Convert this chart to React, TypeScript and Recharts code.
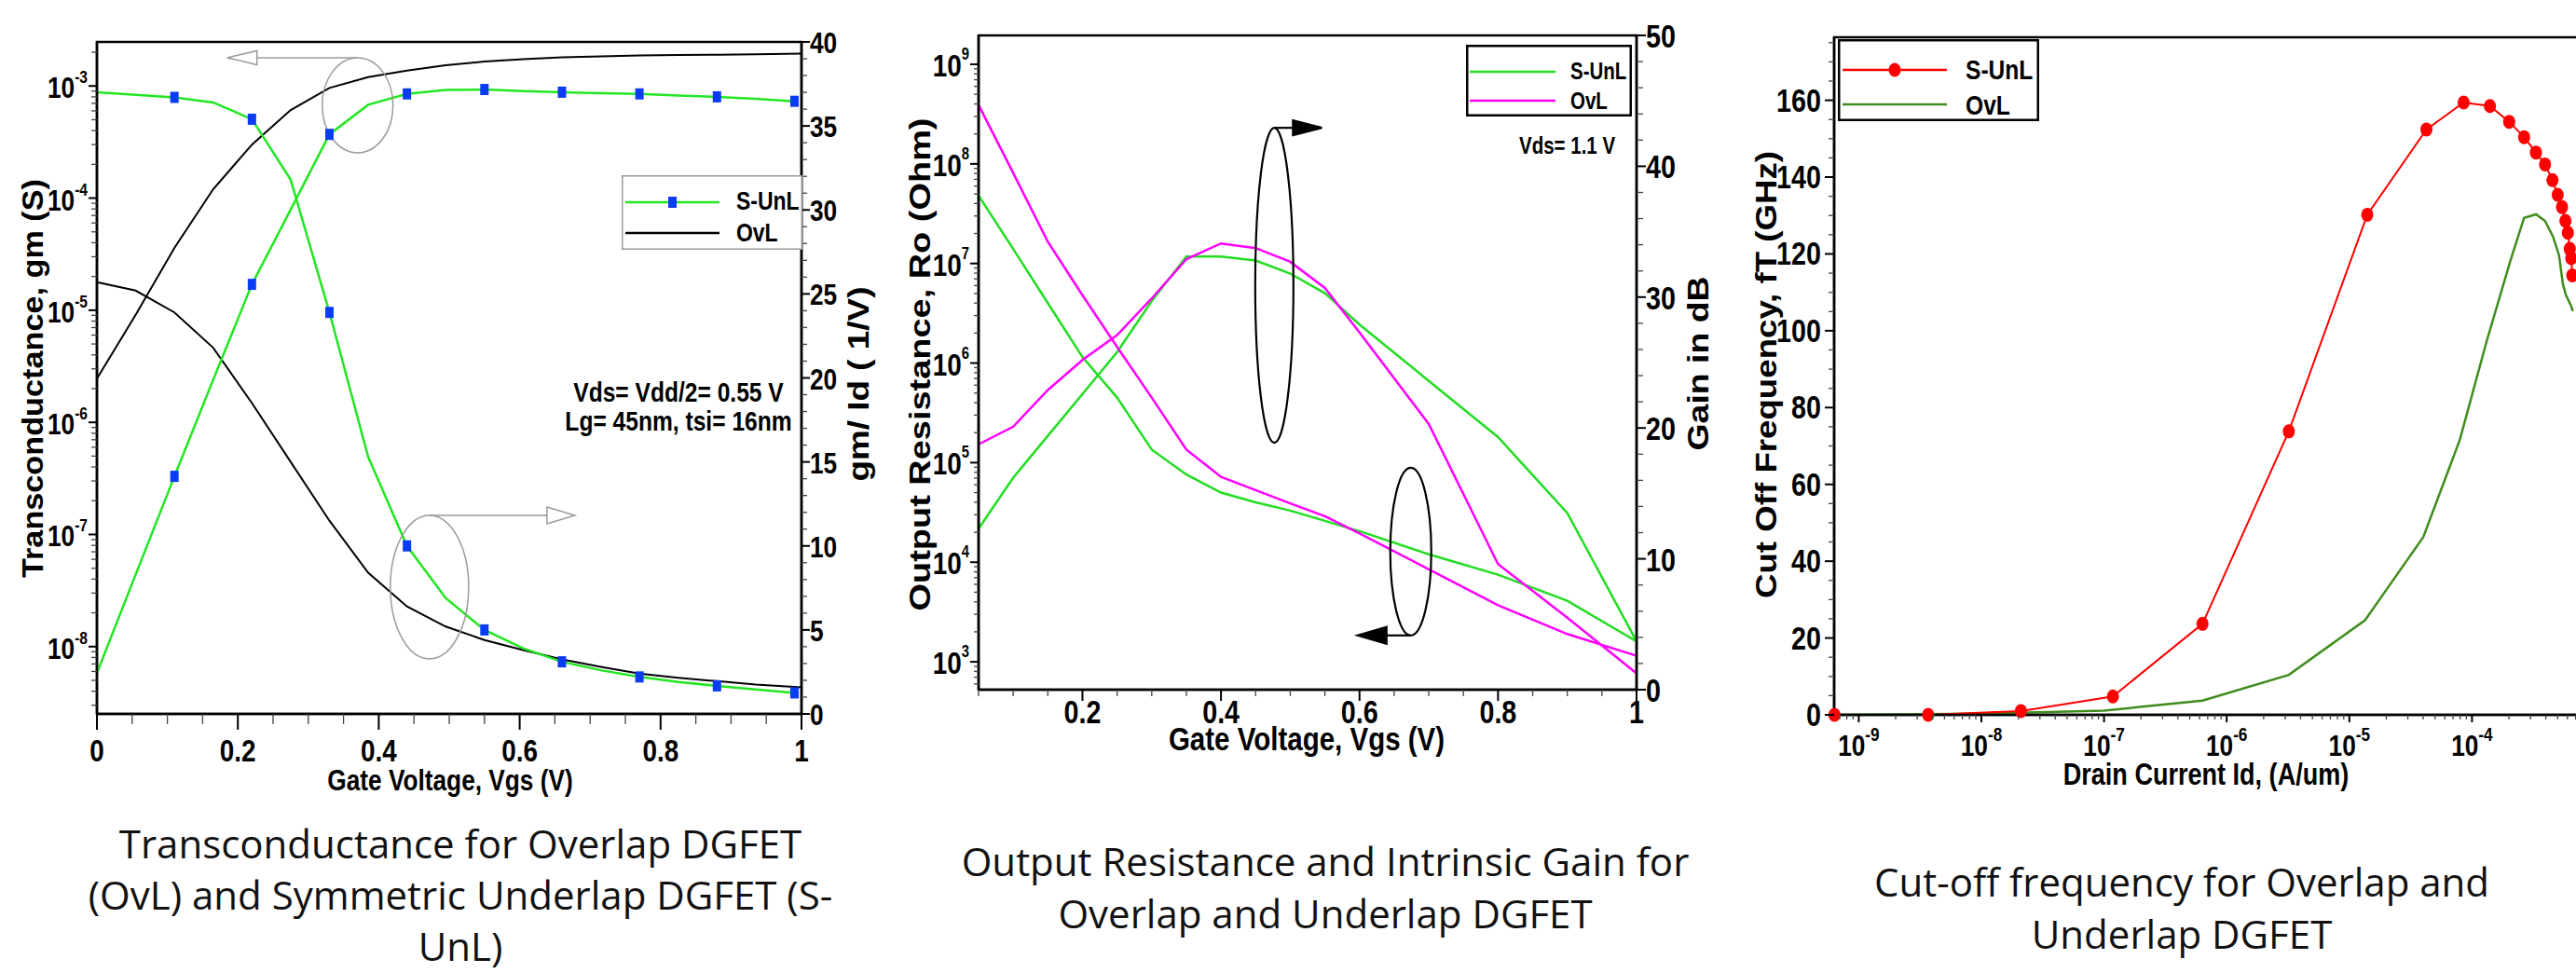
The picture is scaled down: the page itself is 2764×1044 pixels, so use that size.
import React from "react";
import { LineChart, Line, XAxis, YAxis, ReferenceArea, ReferenceDot, Legend } from "recharts";

const SANS = '"Liberation Sans", Arial, sans-serif';
const SQUEEZE = 0.82; // condensed look of the original plotting font

// ---- panel 1: transconductance gm (left, log) and gm/Id (right) vs Vgs
const vgsUnl = [0, 0.055, 0.11, 0.165, 0.22, 0.275, 0.33, 0.385, 0.44, 0.495, 0.55, 0.605, 0.66, 0.715, 0.77, 0.825, 0.88, 0.935, 0.99];
const gmUnl = [5.8e-9, 4.4e-8, 3.3e-7, 2.4e-6, 1.7e-5, 7.9e-5, 3.7e-4, 6.8e-4, 8.5e-4, 9.2e-4, 9.3e-4, 9.0e-4, 8.8e-4, 8.6e-4, 8.5e-4, 8.2e-4, 8.0e-4, 7.7e-4, 7.3e-4];
const gmIdUnl = [37.0, 36.85, 36.7, 36.4, 35.4, 31.8, 23.9, 15.3, 10.0, 6.9, 5.0, 3.9, 3.1, 2.6, 2.2, 1.9, 1.67, 1.45, 1.25];
const vgsOvl = [0, 0.055, 0.11, 0.165, 0.22, 0.275, 0.33, 0.385, 0.44, 0.495, 0.55, 0.605, 0.66, 0.715, 0.77, 0.825, 0.88, 0.935, 1.0];
const gmOvl = [2.45e-6, 9.1e-6, 3.6e-5, 1.2e-4, 3.0e-4, 6.1e-4, 9.6e-4, 1.2e-3, 1.37e-3, 1.53e-3, 1.65e-3, 1.73e-3, 1.8e-3, 1.84e-3, 1.87e-3, 1.89e-3, 1.9e-3, 1.92e-3, 1.94e-3];
const gmIdOvl = [25.7, 25.2, 23.9, 21.8, 18.5, 15.0, 11.5, 8.4, 6.4, 5.2, 4.4, 3.8, 3.25, 2.8, 2.4, 2.15, 1.95, 1.75, 1.58];
const unlMarkers = [0.11, 0.22, 0.33, 0.44, 0.55, 0.66, 0.77, 0.88, 0.99];

// ---- panel 2: output resistance Ro (left, log) and gain in dB (right)
const vgsB = [0.05, 0.1, 0.15, 0.2, 0.25, 0.3, 0.35, 0.4, 0.45, 0.5, 0.55, 0.6, 0.7, 0.8, 0.9, 1.0];
const roUnl = [4.8e7, 1.4e7, 4.0e6, 1.15e6, 4.5e5, 1.35e5, 7.6e4, 5.0e4, 4.0e4, 3.3e4, 2.6e4, 2.05e4, 1.2e4, 7.5e3, 4.1e3, 1.6e3];
const roOvl = [3.9e8, 8.1e7, 1.65e7, 4.8e6, 1.45e6, 4.5e5, 1.35e5, 7.2e4, 5.3e4, 3.9e4, 2.9e4, 1.95e4, 8.5e3, 3.7e3, 1.9e3, 1.15e3];
const gainUnl = [12.3, 16.2, 19.4, 22.6, 25.8, 29.7, 33.1, 33.1, 32.8, 31.8, 30.3, 27.9, 23.6, 19.3, 13.5, 3.7];
const gainOvl = [18.75, 20.1, 22.9, 25.2, 27.1, 29.9, 32.9, 34.1, 33.75, 32.7, 30.7, 27.3, 20.3, 9.6, 5.5, 1.25];

// ---- panel 3: cut-off frequency fT vs drain current
const idUnl = [6.34e-10, 3.68e-9, 2.1e-8, 1.18e-7, 6.35e-7, 3.21e-6, 1.4e-5, 4.25e-5, 8.55e-5, 1.4e-4, 2.01e-4, 2.66e-4, 3.32e-4, 3.94e-4, 4.53e-4, 5.0e-4, 5.42e-4, 5.78e-4, 6.05e-4, 6.27e-4, 6.45e-4, 6.57e-4];
const ftUnl = [0, 0, 1.0, 4.8, 23.7, 73.8, 130.2, 152.4, 159.4, 158.5, 154.4, 150.4, 146.4, 143.3, 139.2, 135.4, 132.2, 128.6, 125.5, 121.3, 118.9, 114.4];
const idOvl = [6.34e-10, 1e-8, 1e-7, 6.35e-7, 3.21e-6, 1.34e-5, 4.01e-5, 7.96e-5, 1.31e-4, 2.05e-4, 2.66e-4, 3.33e-4, 3.94e-4, 4.58e-4, 5.12e-4, 5.52e-4, 5.85e-4, 6.38e-4, 6.65e-4];
const ftOvl = [0, 0.3, 1.1, 3.7, 10.4, 24.6, 46.3, 71.6, 97.0, 118.1, 129.4, 130.3, 128.6, 124.5, 119.7, 112.0, 109.2, 106.7, 105.1];

const captions = {
  gm: ["Transconductance for Overlap DGFET", "(OvL) and Symmetric Underlap DGFET (S-", "UnL)"],
  ro: ["Output Resistance and Intrinsic Gain for", "Overlap and Underlap DGFET"],
  ft: ["Cut-off frequency for Overlap and", "Underlap DGFET"],
};

const gmDomain = [2.51e-9, 2.47e-3];
const roDomain = [525, 1.95e9];
const idDomain = [6.3e-10, 1e-3];
const ftMax = 176.4;

const pts = (xs: number[], ys: number[]) => xs.map((x, i) => ({ x, y: ys[i] }));
const steps = (from: number, to: number, step: number) => {
  const out: number[] = [];
  for (let i = 0; from + i * step <= to + 1e-9; i++) out.push(+(from + i * step).toFixed(6));
  return out;
};
// decade ticks 1..9 x 10^e inside the domain (upper bound excluded)
const logTicks = (lo: number, hi: number, dom: number[]) => {
  const out: number[] = [];
  for (let e = lo; e <= hi; e++)
    for (let k = 1; k <= 9; k++) out.push(+(k * Math.pow(10, e)).toPrecision(3));
  return out.filter((v) => v >= dom[0] && v < dom[1] * 0.999);
};

// bold text squeezed horizontally, anchored at (x, y)
function NText({ x, y, size, anchor = "start", children }: { x: number; y: number; size: number; anchor?: "start" | "middle" | "end"; children: React.ReactNode }) {
  return (
    <g transform={`translate(${x},${y}) scale(${SQUEEZE},1)`}>
      <text x={0} y={0} textAnchor={anchor} fontFamily={SANS} fontWeight="bold" fontSize={size} fill="#000">
        {children}
      </text>
    </g>
  );
}

type TickCfg = {
  side: "left" | "right" | "bottom";
  log?: boolean;
  major?: number;
  majLen: number;
  minLen: number;
  size: number;
  sup?: number;
  rise?: number;
  gap: number;
  dy: number;
};

const axisTick = (c: TickCfg) => (p: any) => {
  const { x, y } = p;
  const v: number = p.payload.value;
  const isMajor = c.log
    ? Math.abs(Math.log10(v) - Math.round(Math.log10(v))) < 1e-6
    : Math.abs(v / c.major! - Math.round(v / c.major!)) < 1e-6;
  const len = isMajor ? c.majLen : c.minLen;
  const seg =
    c.side === "left"
      ? { x1: x, x2: x - len, y1: y, y2: y }
      : c.side === "right"
      ? { x1: x, x2: x + len, y1: y, y2: y }
      : { x1: x, x2: x, y1: y, y2: y + len };
  const tx = c.side === "left" ? x - c.gap : c.side === "right" ? x + c.gap : x;
  const anchor = c.side === "left" ? "end" : c.side === "right" ? "start" : "middle";
  return (
    <g>
      <line {...seg} stroke={isMajor ? "#000" : "#444"} strokeWidth={isMajor ? 2 : 1.3} />
      {isMajor && (
        <NText x={tx} y={y + c.dy} size={c.size} anchor={anchor}>
          {c.log ? (
            <>
              10
              <tspan dy={-c.rise!} fontSize={c.sup}>
                {Math.round(Math.log10(v))}
              </tspan>
            </>
          ) : (
            String(+v.toFixed(2))
          )}
        </NText>
      )}
    </g>
  );
};

type NoteCfg = { rx: number; ry: number; color: string; w: number; hollow: boolean; dir: 1 | -1; at: 1 | -1; len: number; head: number; half: number };
const ellipseNote = (o: NoteCfg) => (p: any) => {
  const { cx, cy } = p;
  const ay = cy + o.at * o.ry;
  const bx = cx + o.dir * o.len;
  const tip = bx + o.dir * o.head;
  return (
    <g>
      <ellipse cx={cx} cy={cy} rx={o.rx} ry={o.ry} fill="none" stroke={o.color} strokeWidth={o.w} />
      <line x1={cx} y1={ay} x2={bx} y2={ay} stroke={o.color} strokeWidth={o.w} />
      <polygon points={`${bx},${ay - o.half} ${bx},${ay + o.half} ${tip},${ay}`} fill={o.hollow ? "#fff" : o.color} stroke={o.color} strokeWidth={o.w} />
    </g>
  );
};

type Row = { name: string; color: string; lw: number; mark?: "square" | "circle"; y: number; ty: number };
function LegendBox(props: { w: number; h: number; border: string; bw: number; x1: number; x2: number; tx: number; font: number; rows: Row[] }) {
  const { w, h, border, bw, x1, x2, tx, font, rows } = props;
  const mx = (x1 + x2) / 2;
  return (
    <svg width={w} height={h} style={{ display: "block" }}>
      <rect x={bw / 2} y={bw / 2} width={w - bw} height={h - bw} fill="#fff" stroke={border} strokeWidth={bw} />
      {rows.map((r) => (
        <g key={r.name}>
          <line x1={x1} x2={x2} y1={r.y} y2={r.y} stroke={r.color} strokeWidth={r.lw} />
          {r.mark === "square" && <rect x={mx - 4.5} y={r.y - 6} width={9} height={12} fill="#0a3cf5" />}
          {r.mark === "circle" && <ellipse cx={mx} cy={r.y} rx={6.5} ry={7.5} fill={r.color} />}
          <NText x={tx} y={r.ty} size={font}>
            {r.name}
          </NText>
        </g>
      ))}
    </svg>
  );
}

const AXIS = { stroke: "#000", strokeWidth: 2.5 };
const axisBase = { tickSize: 0, tickMargin: 0, tickLine: false, interval: 0 as const, axisLine: AXIS };

const squareDot = (p: any) => {
  const on = unlMarkers.some((m) => Math.abs(m - p.payload.x) < 1e-6);
  if (!on) return <g key={`s${p.index}`} />;
  return <rect key={`s${p.index}`} x={p.cx - 4.5} y={p.cy - 6} width={9} height={12} fill="#0a3cf5" />;
};
const redDot = (p: any) => <ellipse key={`r${p.index}`} cx={p.cx} cy={p.cy} rx={6.5} ry={7.5} fill="#ff0000" />;

function GmChart() {
  return (
    <LineChart width={1000} height={870} margin={{ top: 45, right: 40, bottom: 0, left: 0 }}>
      <XAxis dataKey="x" type="number" domain={[0, 1]} ticks={steps(0, 1, 0.05)} height={104} {...axisBase}
        tick={axisTick({ side: "bottom", major: 0.2, majLen: 17, minLen: 11, size: 34, gap: 0, dy: 51 })} />
      <YAxis yAxisId="left" type="number" scale="log" domain={gmDomain} ticks={logTicks(-9, -3, gmDomain)} width={104} {...axisBase}
        tick={axisTick({ side: "left", log: true, majLen: 9, minLen: 6, size: 32, sup: 19, rise: 16, gap: 10, dy: 13 })} />
      <YAxis yAxisId="right" orientation="right" type="number" domain={[0, 40]} ticks={steps(0, 40, 1)} width={100} {...axisBase}
        tick={axisTick({ side: "right", major: 5, majLen: 9, minLen: 6, size: 32, gap: 9, dy: 12 })} />
      <ReferenceArea yAxisId="left" x1={0} x2={1} y1={gmDomain[0]} y2={gmDomain[1]} fill="none" stroke="#000" strokeWidth={2.5} />
      <Line data={pts(vgsOvl, gmOvl)} dataKey="y" yAxisId="left" name="OvL" stroke="#000" strokeWidth={2} dot={false} isAnimationActive={false} />
      <Line data={pts(vgsOvl, gmIdOvl)} dataKey="y" yAxisId="right" name="OvL gm/Id" legendType="none" stroke="#000" strokeWidth={2} dot={false} isAnimationActive={false} />
      <Line data={pts(vgsUnl, gmUnl)} dataKey="y" yAxisId="left" name="S-UnL" stroke="#22e622" strokeWidth={2.5} dot={squareDot} isAnimationActive={false} />
      <Line data={pts(vgsUnl, gmIdUnl)} dataKey="y" yAxisId="right" name="S-UnL gm/Id" legendType="none" stroke="#22e622" strokeWidth={2.5} dot={squareDot} isAnimationActive={false} />
      <ReferenceDot x={0.37} y={6.73e-4} yAxisId="left"
        shape={ellipseNote({ rx: 38, ry: 51, color: "#9a9a9a", w: 1.5, hollow: true, dir: -1, at: -1, len: 108, head: 32, half: 7.5 })} />
      <ReferenceDot x={0.472} y={7.55} yAxisId="right"
        shape={ellipseNote({ rx: 42, ry: 77, color: "#9a9a9a", w: 1.5, hollow: true, dir: 1, at: -1, len: 126, head: 30, half: 9 })} />
      <Legend layout="horizontal" verticalAlign="middle" align="center"
        wrapperStyle={{ left: 667, top: 188, width: 194, height: 80 }}
        content={() => (
          <LegendBox w={194} h={80} border="#999" bw={1.5} x1={4} x2={105} tx={123} font={28}
            rows={[
              { name: "S-UnL", color: "#22e622", lw: 2.5, mark: "square", y: 29, ty: 37 },
              { name: "OvL", color: "#000", lw: 2.5, y: 62, ty: 71 },
            ]} />
        )} />
    </LineChart>
  );
}

function RoChart() {
  return (
    <LineChart width={900} height={830} margin={{ top: 38, right: 0, bottom: 0, left: 0 }}>
      <XAxis dataKey="x" type="number" domain={[0.05, 1]} ticks={steps(0.05, 1, 0.05)} height={90} {...axisBase}
        tick={axisTick({ side: "bottom", major: 0.2, majLen: 12, minLen: 7, size: 35, gap: 0, dy: 36 })} />
      <YAxis yAxisId="left" type="number" scale="log" domain={roDomain} ticks={logTicks(2, 9, roDomain)} width={130} {...axisBase}
        tick={axisTick({ side: "left", log: true, majLen: 9, minLen: 5, size: 34, sup: 18, rise: 18, gap: 10, dy: 13 })} />
      <YAxis yAxisId="right" orientation="right" type="number" domain={[0, 50]} ticks={steps(0, 50, 2)} width={64} {...axisBase}
        tick={axisTick({ side: "right", major: 10, majLen: 10, minLen: 7, size: 35, gap: 10, dy: 13 })} />
      <ReferenceArea yAxisId="left" x1={0.05} x2={1} y1={roDomain[0]} y2={roDomain[1]} fill="none" stroke="#000" strokeWidth={2.5} />
      <Line data={pts(vgsB, roUnl)} dataKey="y" yAxisId="left" name="S-UnL" stroke="#22dd22" strokeWidth={2.5} dot={false} isAnimationActive={false} />
      <Line data={pts(vgsB, gainUnl)} dataKey="y" yAxisId="right" name="S-UnL gain" legendType="none" stroke="#22dd22" strokeWidth={2.5} dot={false} isAnimationActive={false} />
      <Line data={pts(vgsB, roOvl)} dataKey="y" yAxisId="left" name="OvL" stroke="#ff00ff" strokeWidth={2.5} dot={false} isAnimationActive={false} />
      <Line data={pts(vgsB, gainOvl)} dataKey="y" yAxisId="right" name="OvL gain" legendType="none" stroke="#ff00ff" strokeWidth={2.5} dot={false} isAnimationActive={false} />
      <ReferenceDot x={0.477} y={30.9} yAxisId="right"
        shape={ellipseNote({ rx: 20.5, ry: 169, color: "#000", w: 2.2, hollow: false, dir: 1, at: -1, len: 20, head: 31, half: 8 })} />
      <ReferenceDot x={0.674} y={1.28e4} yAxisId="left"
        shape={ellipseNote({ rx: 22, ry: 90, color: "#000", w: 2.2, hollow: false, dir: -1, at: 1, len: 26, head: 31, half: 9 })} />
      <Legend layout="horizontal" verticalAlign="middle" align="center"
        wrapperStyle={{ left: 653, top: 48, width: 178, height: 77 }}
        content={() => (
          <LegendBox w={178} h={77} border="#000" bw={2.5} x1={4} x2={96} tx={112} font={25}
            rows={[
              { name: "S-UnL", color: "#22dd22", lw: 2.5, y: 29, ty: 37 },
              { name: "OvL", color: "#ff00ff", lw: 2.5, y: 60, ty: 69 },
            ]} />
        )} />
    </LineChart>
  );
}

function FtChart() {
  return (
    <LineChart width={1000} height={870} margin={{ top: 40, right: 96, bottom: 0, left: 0 }}>
      <XAxis dataKey="x" type="number" scale="log" domain={idDomain} ticks={logTicks(-10, -3, idDomain)} height={103} {...axisBase}
        tick={axisTick({ side: "bottom", log: true, majLen: 8, minLen: 5, size: 32, sup: 21, rise: 16, gap: 0, dy: 44 })} />
      <YAxis type="number" domain={[0, ftMax]} ticks={steps(0, 175, 5)} width={88} {...axisBase}
        tick={axisTick({ side: "left", major: 20, majLen: 10, minLen: 6, size: 35, gap: 14, dy: 12 })} />
      <ReferenceArea x1={idDomain[0]} x2={idDomain[1]} y1={0} y2={ftMax} fill="none" stroke="#000" strokeWidth={2.5} />
      <Line data={pts(idOvl, ftOvl)} dataKey="y" name="OvL" stroke="#3f8c1c" strokeWidth={2.5} dot={false} isAnimationActive={false} />
      <Line data={pts(idUnl, ftUnl)} dataKey="y" name="S-UnL" stroke="#ff0000" strokeWidth={2} dot={redDot} isAnimationActive={false} />
      <Legend layout="horizontal" verticalAlign="middle" align="center"
        wrapperStyle={{ left: 92, top: 42, width: 216, height: 88 }}
        content={() => (
          <LegendBox w={216} h={88} border="#000" bw={2.5} x1={5} x2={117} tx={137} font={30}
            rows={[
              { name: "S-UnL", color: "#ff0000", lw: 2.5, mark: "circle", y: 33, ty: 43 },
              { name: "OvL", color: "#3f8c1c", lw: 2.5, y: 70, ty: 81 },
            ]} />
        )} />
    </LineChart>
  );
}

function VTitle({ x, y, len, children }: { x: number; y: number; len: number; children: string }) {
  return (
    <text transform={`translate(${x},${y}) rotate(-90)`} textAnchor="middle" dominantBaseline="central"
      fontFamily={SANS} fontWeight="bold" fontSize={32} textLength={len} lengthAdjust="spacingAndGlyphs" fill="#000">
      {children}
    </text>
  );
}
function Caption({ x, y, lines, gap = 56 }: { x: number; y: number; lines: string[]; gap?: number }) {
  return (
    <text textAnchor="middle" fontFamily='"Open Sans", sans-serif' fontSize={42} fill="#111">
      {lines.map((l, i) => (
        <tspan key={i} x={x} y={y + i * gap}>
          {l}
        </tspan>
      ))}
    </text>
  );
}

function Overlay() {
  return (
    <svg width={2764} height={1044} style={{ position: "absolute", left: 0, top: 0, pointerEvents: "none" }}>
      <VTitle x={35} y={406} len={428}>Transconductance, gm (S)</VTitle>
      <VTitle x={921} y={412} len={209}>gm/ Id ( 1/V)</VTitle>
      <VTitle x={987} y={391} len={529}>Output Resistance, Ro (Ohm)</VTitle>
      <VTitle x={1822} y={390} len={187}>Gain in dB</VTitle>
      <VTitle x={1895} y={402} len={480}>Cut Off Frequency, fT (GHz)</VTitle>
      <NText x={483} y={848} size={32} anchor="middle">Gate Voltage, Vgs (V)</NText>
      <NText x={1402} y={805} size={36} anchor="middle">Gate Voltage, Vgs (V)</NText>
      <NText x={2367} y={842} size={33} anchor="middle">Drain Current Id, (A/um)</NText>
      <NText x={728} y={431} size={30} anchor="middle">Vds= Vdd/2= 0.55 V</NText>
      <NText x={728} y={462} size={30} anchor="middle">Lg= 45nm, tsi= 16nm</NText>
      <NText x={1630} y={165} size={25}>Vds= 1.1 V</NText>
      <Caption x={494} y={921} gap={55} lines={captions.gm} />
      <Caption x={1422} y={940} lines={captions.ro} />
      <Caption x={2341} y={962} lines={captions.ft} />
    </svg>
  );
}

export default function App() {
  return (
    <div style={{ position: "absolute", left: 0, top: 0, width: 2764, height: 1044, overflow: "hidden", background: "#fff" }}>
      <div style={{ position: "absolute", left: 0, top: 0 }}>
        <GmChart />
      </div>
      <div style={{ position: "absolute", left: 920, top: 0 }}>
        <RoChart />
      </div>
      <div style={{ position: "absolute", left: 1880, top: 0 }}>
        <FtChart />
      </div>
      <Overlay />
    </div>
  );
}
